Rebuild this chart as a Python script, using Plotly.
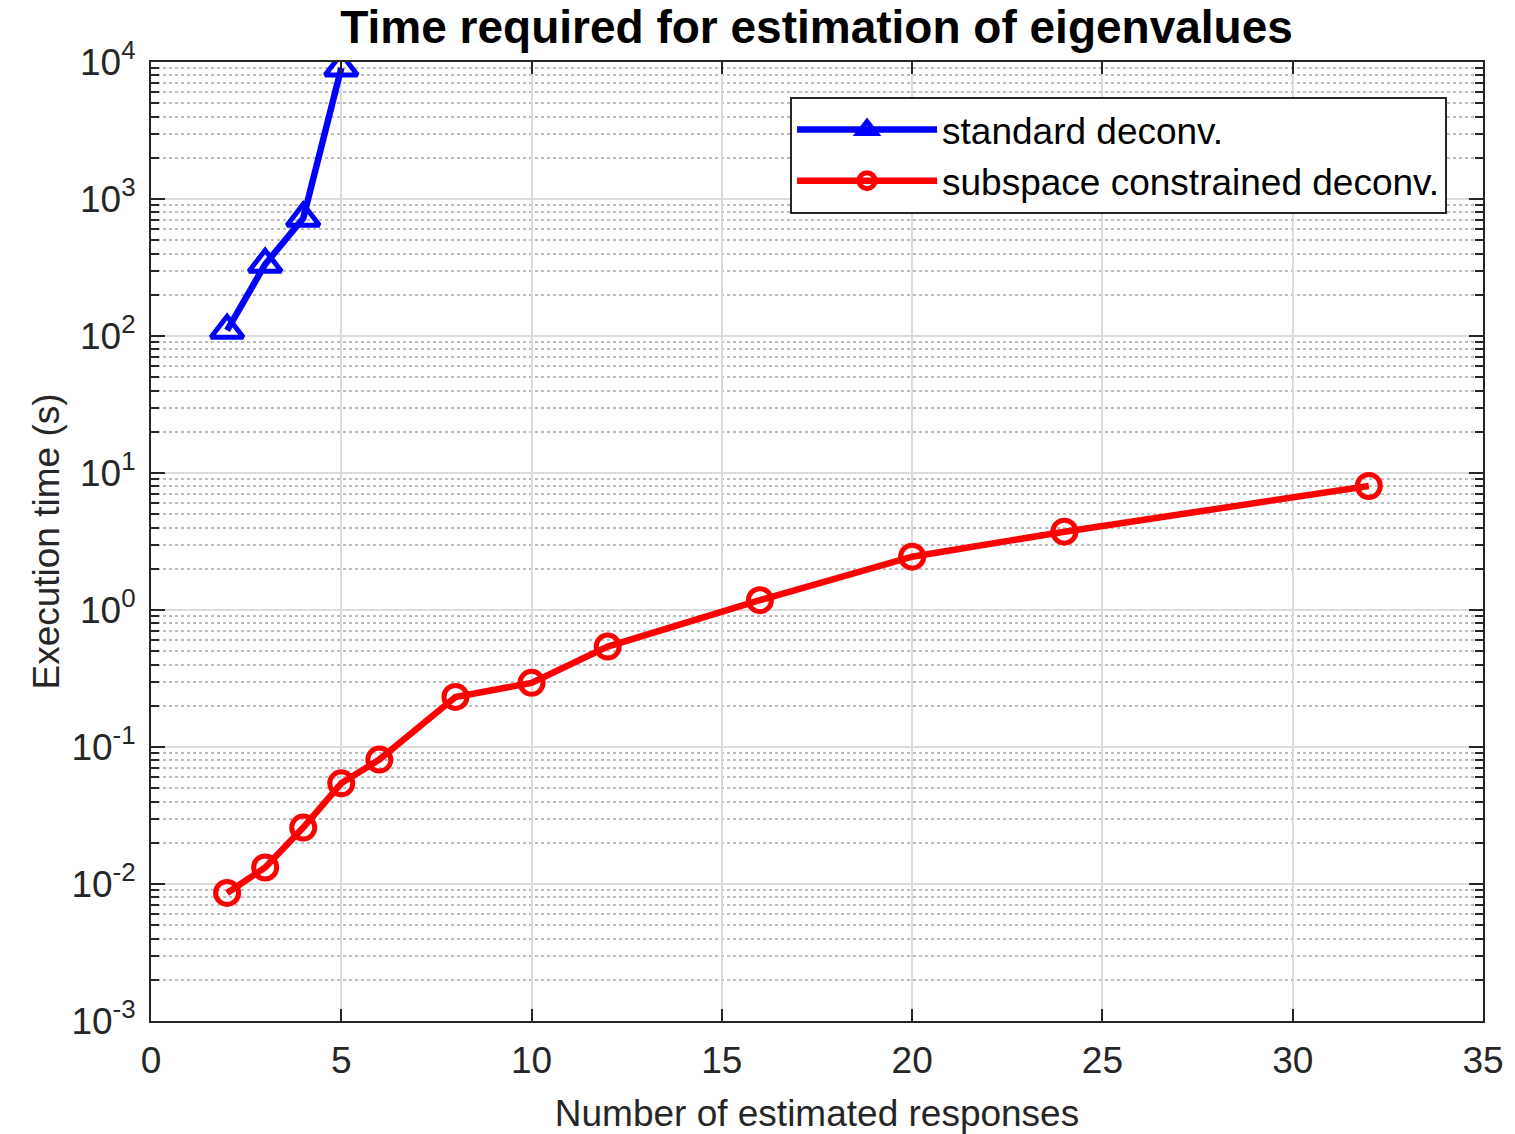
import plotly.graph_objects as go

# Number of estimated responses
n_standard = [2, 3, 4, 5]
n_subspace = [2, 3, 4, 5, 6, 8, 10, 12, 16, 20, 24, 32]

# Execution time (s)
t_standard = [110, 334, 724, 9040]
t_subspace = [0.0086, 0.0132, 0.0258, 0.0543, 0.0809, 0.232, 0.294, 0.541,
              1.18, 2.45, 3.73, 8.04]

x_ticks = [0, 5, 10, 15, 20, 25, 30, 35]
y_exponents = [-3, -2, -1, 0, 1, 2, 3, 4]

FONT = "Liberation Sans, Arial, sans-serif"
TICK_COLOR = "#262626"
FS = 37

fig = go.Figure()

fig.add_trace(go.Scatter(
    x=n_standard, y=t_standard, mode="lines+markers", name="standard deconv.",
    line=dict(color="#0000ff", width=6.5),
    marker=dict(symbol="triangle-up-open", size=28, color="#0000ff",
                line=dict(color="#0000ff", width=5)),
))
fig.add_trace(go.Scatter(
    x=n_subspace, y=t_subspace, mode="lines+markers",
    name="subspace constrained deconv.",
    line=dict(color="#ff0000", width=6.5),
    marker=dict(symbol="circle-open", size=23, color="#ff0000",
                line=dict(color="#ff0000", width=5)),
))

fig.update_layout(
    width=1515, height=1134,
    margin=dict(l=151, r=32, t=62, b=113),
    paper_bgcolor="white", plot_bgcolor="white",
    font=dict(family=FONT, size=FS, color=TICK_COLOR),
    title=dict(text="<b>Time required for estimation of eigenvalues</b>",
               x=0.539, xanchor="center", y=0.976, yanchor="middle",
               font=dict(family=FONT, size=46, color="black")),
    legend=dict(x=0.973, y=0.9635, xanchor="right", yanchor="top",
                bgcolor="white", bordercolor="#262626", borderwidth=2,
                font=dict(family=FONT, size=FS, color="black"),
                itemsizing="trace", itemwidth=140, tracegroupgap=0),
)

fig.update_xaxes(
    range=[0, 35], tickvals=x_ticks, ticktext=[str(v) for v in x_ticks],
    ticks="inside", ticklen=12, tickwidth=2, tickcolor=TICK_COLOR,
    ticklabelstandoff=6, automargin=False,
    showline=True, linecolor=TICK_COLOR, linewidth=2, mirror="ticks",
    showgrid=True, gridcolor="#dcdcdc", gridwidth=2,
    zeroline=False,
    title=dict(text="Number of estimated responses", standoff=20,
               font=dict(family=FONT, size=FS, color=TICK_COLOR)),
)

fig.update_yaxes(
    type="log", range=[-3, 4],
    tickvals=[10 ** e for e in y_exponents],
    ticktext=[f"10<sup>{e}</sup>" for e in y_exponents],
    ticks="inside", ticklen=14, tickwidth=2, tickcolor=TICK_COLOR,
    ticklabelstandoff=6, automargin=False,
    showline=True, linecolor=TICK_COLOR, linewidth=2, mirror="ticks",
    showgrid=True, gridcolor="#dcdcdc", gridwidth=2,
    zeroline=False,
    minor=dict(dtick="D1", ticks="inside", ticklen=8, tickwidth=2,
               tickcolor=TICK_COLOR, showgrid=True, gridcolor="#bdbdbd",
               gridwidth=2, griddash="dot"),
    title=dict(text="Execution time (s)", standoff=0,
               font=dict(family=FONT, size=FS, color=TICK_COLOR)),
)

fig.write_html("out.html")
